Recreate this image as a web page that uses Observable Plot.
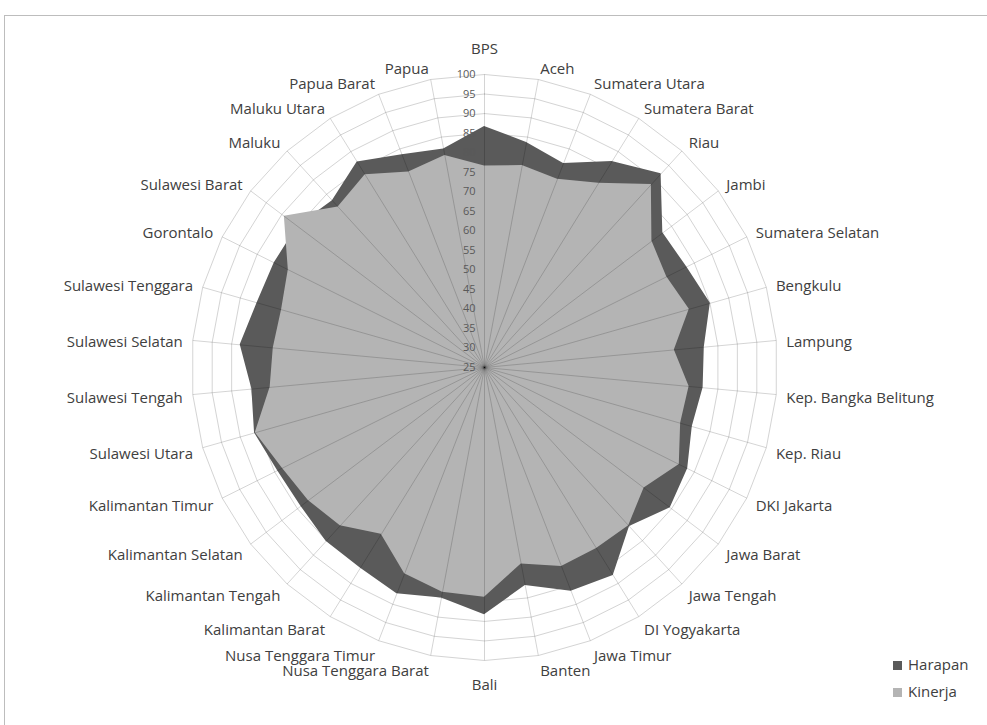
<!DOCTYPE html>
<html><head><meta charset="utf-8">
<script src="https://cdn.jsdelivr.net/npm/d3@7"></script>
<script src="https://cdn.jsdelivr.net/npm/@observablehq/plot@0.6"></script>
<style>
body{margin:0;background:#fff;font-family:"Open Sans",sans-serif;}
#wrap{position:relative;width:987px;height:725px;overflow:hidden;background:#fff;}
#chart{position:absolute;left:0;top:0;}
#frame{position:absolute;left:4px;top:15px;width:1000px;height:800px;border-top:1px solid #bdbdbd;border-left:1px solid #bdbdbd;pointer-events:none;z-index:2;}
.leg{position:absolute;left:893px;font-size:15px;color:#404040;line-height:18px;white-space:nowrap;z-index:3;}
.leg span.sw{display:inline-block;width:9px;height:9px;margin-right:6px;vertical-align:0px;}
</style></head>
<body><div id="wrap"><div id="chart"></div><div id="frame"></div><div id="legend"></div></div>
<script>
const categories = ["BPS","Aceh","Sumatera Utara","Sumatera Barat","Riau","Jambi","Sumatera Selatan","Bengkulu","Lampung","Kep. Bangka Belitung","Kep. Riau","DKI Jakarta","Jawa Barat","Jawa Tengah","DI Yogyakarta","Jawa Timur","Banten","Bali","Nusa Tenggara Barat","Nusa Tenggara Timur","Kalimantan Barat","Kalimantan Tengah","Kalimantan Selatan","Kalimantan Timur","Sulawesi Utara","Sulawesi Tengah","Sulawesi Selatan","Sulawesi Tenggara","Gorontalo","Sulawesi Barat","Maluku","Maluku Utara","Papua Barat","Papua"];
const harapan = [86.7,83.6,81.0,87.0,92.1,82.2,82.8,85.1,81.5,81.2,80.3,83.1,84.6,80.1,87.6,86.4,81.8,88.3,85.0,87.1,85.4,85.2,83.9,84.2,86.2,84.8,87.8,85.5,85.1,85.0,82.8,86.9,83.4,81.9];
const kinerja = [76.6,77.6,76.7,80.5,88.4,78.7,77.1,79.5,73.8,77.6,77.2,80.7,76.2,79.8,79.5,79.6,76.2,83.8,83.5,81.6,75.2,79.8,81.5,82.8,86.0,80.1,79.3,79.0,81.1,89.2,80.6,83.0,78.7,80.2];
const ticks = [25,30,35,40,45,50,55,60,65,70,75,80,85,90,95,100];
const seriesNames = ["Harapan","Kinerja"];
const seriesColors = ["#5a5a5a","#b4b4b4"];

const W = 987, H = 725, cx = 484, cy = 367, R = 293;
const rMin = ticks[0], rMax = ticks[ticks.length - 1];
const k = R / (rMax - rMin);
const n = categories.length;
const ang = i => 2 * Math.PI * i / n;
const px = (i, r) => r * Math.sin(ang(i));
const py = (i, r) => r * Math.cos(ang(i));

const rows = categories.map((name, i) => ({name, i}));
const seriesData = seriesNames.map((s, si) => rows.map(d => ({series: s, i: d.i, value: (si === 0 ? harapan : kinerja)[d.i]})));
const rings = ticks.filter(t => t > rMin).flatMap(t => d3.range(n + 1).map(j => ({t, i: j % n})));

// label placement (pixels -> units)
const labelPos = d => {
  const s = Math.sin(ang(d.i)), c = Math.cos(ang(d.i));
  if (Math.abs(s) < 0.05) return {x: 0, y: (318 * c) / k, anchor: "middle"};
  const D = 303;
  const shift = 2.5 - 3.5 * c;
  return {x: D * s / k, y: (D * c - shift) / k, anchor: s > 0 ? "start" : "end"};
};
const labelMark = anchor => Plot.text(rows.filter(d => labelPos(d).anchor === anchor), {
  x: d => labelPos(d).x, y: d => labelPos(d).y, text: "name",
  textAnchor: anchor, fontSize: 15, fill: "#404040"
});

const chart = Plot.plot({
  width: W, height: H, margin: 0,
  style: {background: "transparent", fontFamily: "'Open Sans', sans-serif"},
  x: {domain: [-cx / k, (W - cx) / k], range: [0, W], axis: null},
  y: {domain: [-(H - cy) / k, cy / k], range: [H, 0], axis: null},
  color: {domain: seriesNames, range: seriesColors},
  marks: [
    Plot.line(rings, {x: d => px(d.i, d.t - rMin), y: d => py(d.i, d.t - rMin), z: "t", stroke: "#d4d4d4", strokeWidth: 1}),
    Plot.area(seriesData[0], {x1: d => px(d.i, d.value - rMin), y1: d => py(d.i, d.value - rMin), x2: () => 0, y2: () => 0, fill: "series", curve: "linear-closed"}),
    Plot.area(seriesData[1], {x1: d => px(d.i, d.value - rMin), y1: d => py(d.i, d.value - rMin), x2: () => 0, y2: () => 0, fill: "series", curve: "linear-closed"}),
    Plot.link(rows, {x1: () => 0, y1: () => 0, x2: d => px(d.i, rMax - rMin), y2: d => py(d.i, rMax - rMin), stroke: "#000", strokeOpacity: 0.17, strokeWidth: 1}),
    Plot.text(ticks, {x: () => 0, y: t => t - rMin, text: t => String(t), textAnchor: "end", dx: -9, fontSize: 11, fill: "#595959"}),
    labelMark("start"), labelMark("end"), labelMark("middle")
  ]
});
document.getElementById("chart").appendChild(chart);

const legendTops = [655, 682];
document.getElementById("legend").innerHTML = seriesNames.map((s, si) =>
  `<div class="leg" style="top:${legendTops[si]}px"><span class="sw" style="background:${seriesColors[si]}"></span>${s}</div>`).join("");
</script>
</body></html>
